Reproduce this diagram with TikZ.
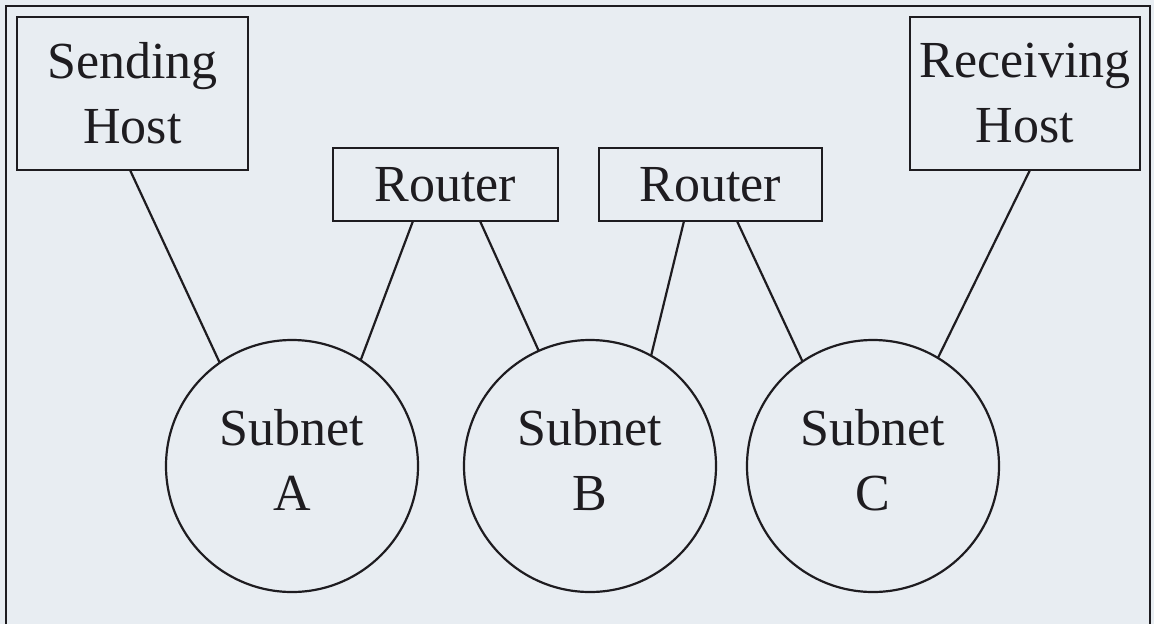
\documentclass[tikz,border=0pt]{standalone}
\usepackage{fontspec}
\setmainfont{Liberation Serif}
\usetikzlibrary{calc}
\definecolor{bgcol}{RGB}{232,237,242}
\definecolor{inkcol}{RGB}{30,28,32}
\begin{document}
\begin{tikzpicture}[x=1pt,y=-1pt,
  every node/.style={font=\fontsize{52}{65}\selectfont, text=inkcol},
  boxnode/.style={draw=inkcol, line width=2.2pt, rectangle, inner sep=0pt, outer sep=0pt, align=center},
  subnet/.style={draw=inkcol, line width=2.2pt, circle, minimum size=252pt, inner sep=0pt, outer sep=0pt},
  lbl/.style={align=center, inner sep=0pt},
  link/.style={draw=inkcol, line width=2.2pt}]
\fill[bgcol] (0,0) rectangle (1154,624);
\useasboundingbox (0,0) rectangle (1154,624);
\draw[inkcol, line width=2.2pt] (6,624) -- (6,6) -- (1150,6) -- (1150,624);
% boxes
\node[boxnode, minimum width=231pt, minimum height=153pt] (sh) at (132.5,93.5) {Sending\\Host};
\node[boxnode, minimum width=230pt, minimum height=153pt] (rh) at (1025,93.5) {Receiving\\Host};
\node[boxnode, minimum width=225pt, minimum height=73pt] (r1) at (445.5,184.5) {Router};
\node[boxnode, minimum width=223pt, minimum height=73pt] (r2) at (710.5,184.5) {Router};
% subnets
\node[subnet] (sA) at (292,466) {};
\node[subnet] (sB) at (590,466) {};
\node[subnet] (sC) at (873,466) {};
\node[lbl] (tA) at ($(sA)+(0,-6)$) {Subnet\\A};
\node[lbl] (tB) at ($(sB)+(0,-6)$) {Subnet\\B};
\node[lbl] (tC) at ($(sC)+(0,-6)$) {Subnet\\C};
% connection points on boxes
\coordinate (shp) at ($(sh.south)+(-2.5,0)$);
\coordinate (r1l) at ($(r1.south)+(-32.5,0)$);
\coordinate (r1r) at ($(r1.south)+(34.5,0)$);
\coordinate (r2l) at ($(r2.south)+(-26.5,0)$);
\coordinate (r2r) at ($(r2.south)+(26.5,0)$);
\coordinate (rhp) at ($(rh.south)+(5,0)$);
% links
\draw[link] (shp) -- (sA.125.4);
\draw[link] (r1l) -- (sA.57.6);
\draw[link] (r1r) -- (sB.114);
\draw[link] (r2l) -- (sB.61.6);
\draw[link] (r2r) -- (sC.124);
\draw[link] (rhp) -- (sC.59.4);
\end{tikzpicture}
\end{document}
